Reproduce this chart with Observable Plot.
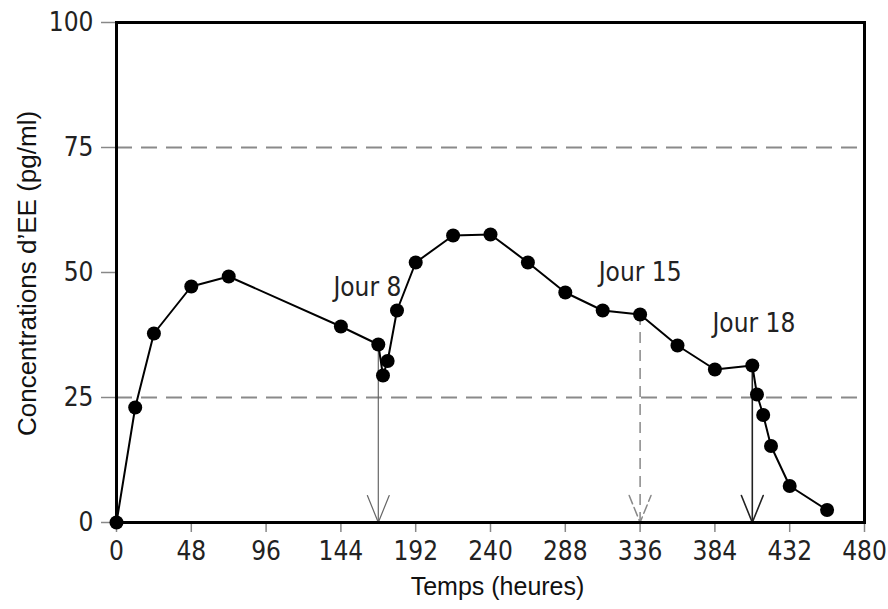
<!DOCTYPE html>
<html>
<head>
<meta charset="utf-8">
<script src="https://cdn.jsdelivr.net/npm/d3@7"></script>
<script src="https://cdn.jsdelivr.net/npm/@observablehq/plot@0.6"></script>
<style>
  html, body { margin: 0; padding: 0; background: #fff; }
  #chart svg { display: block; }
</style>
</head>
<body>
<div id="chart"></div>
<script>
// Data
const hours = [0, 12, 24, 48, 72, 144, 168, 171, 174, 180, 192, 216, 240, 264, 288, 312, 336, 360, 384, 408, 411, 415, 420, 432, 456];
const conc  = [0, 23, 37.8, 47.2, 49.2, 39.2, 35.6, 29.4, 32.3, 42.4, 52, 57.4, 57.6, 52, 46, 42.4, 41.6, 35.4, 30.6, 31.4, 25.6, 21.5, 15.3, 7.3, 2.5];

const xTicks = [0, 48, 96, 144, 192, 240, 288, 336, 384, 432, 480];
const yTicks = [0, 25, 50, 75, 100];
const gridValues = [25, 75];

const jourLabels = ["Jour 8", "Jour 15", "Jour 18"];
const jourHours  = [168, 336, 408];          // arrow positions
const jourTop    = [35.6, 41.6, 31.4];       // arrow starts (data points)
const jourLabelX = [161, 336, 409];
const jourLabelY = [47, 50, 39.8];

const points = hours.map((h, i) => ({h, c: conc[i]}));
const arrows = jourHours.map((h, i) => ({h, top: jourTop[i], name: jourLabels[i]}));
const labels = jourLabels.map((t, i) => ({t, x: jourLabelX[i], y: jourLabelY[i]}));
const headW = 7, headH = 5.4;
const heads = arrows.flatMap(a => [
  {x: a.h - headW, y: headH, name: a.name},
  {x: a.h, y: 0, name: a.name},
  {x: a.h + headW, y: headH, name: a.name}
]);
const arrowStyle = {
  "Jour 8":  {stroke: "#666", width: 1.2, dash: null},
  "Jour 15": {stroke: "#888", width: 1.5, dash: "11,7"},
  "Jour 18": {stroke: "#222", width: 1.6, dash: null}
};

const narrow = "'Liberation Sans Narrow', 'Arial Narrow', 'DejaVu Sans Condensed', sans-serif";
const sans = "'Liberation Sans', Arial, sans-serif";

const arrowMarks = jourLabels.flatMap(name => {
  const s = arrowStyle[name];
  return [
    Plot.ruleX(arrows.filter(a => a.name === name), {x: "h", y1: "top", y2: 0, stroke: s.stroke, strokeWidth: s.width, strokeDasharray: s.dash}),
    Plot.line(heads.filter(d => d.name === name), {x: "x", y: "y", stroke: s.stroke, strokeWidth: s.width, strokeDasharray: s.dash ? "9,4" : null})
  ];
});

const chart = Plot.plot({
  width: 888,
  height: 609,
  marginLeft: 116,
  marginRight: 24,
  marginTop: 22,
  marginBottom: 87,
  style: {fontFamily: narrow, fontSize: "26px", color: "#222", background: "#fff"},
  x: {domain: [0, 480], label: null},
  y: {domain: [0, 100], label: null},
  marks: [
    Plot.ruleY(gridValues, {stroke: "#8a8a8a", strokeWidth: 2, strokeDasharray: "16,9"}),
    Plot.axisX({ticks: xTicks, tickSize: 10, tickPadding: 9, stroke: "#888", strokeWidth: 1.5, fill: "#222", fontSize: 26, fontFamily: narrow, label: null}),
    Plot.axisY({ticks: yTicks, tickSize: 15, tickPadding: 8, stroke: "#888", strokeWidth: 1.5, fill: "#222", fontSize: 26, fontFamily: narrow, label: null}),
    ...arrowMarks,
    Plot.line(points, {x: "h", y: "c", stroke: "black", strokeWidth: 2}),
    Plot.dot(points, {x: "h", y: "c", r: 7, fill: "black", stroke: "none"}),
    Plot.frame({stroke: "black", strokeWidth: 3}),
    Plot.text(labels, {x: "x", y: "y", text: "t", fontSize: 26, fontFamily: narrow, fill: "#222"}),
    Plot.text(["Temps (heures)"], {frameAnchor: "bottom", dx: 7, dy: 72, textAnchor: "middle", fontSize: 25, fontFamily: sans, fill: "#111"}),
    Plot.text(["Concentrations d’EE (pg/ml)"], {frameAnchor: "left", dx: -89, dy: 1, rotate: -90, textAnchor: "middle", fontSize: 26, fontFamily: sans, fill: "#111"})
  ]
});
document.getElementById("chart").appendChild(chart);
</script>
</body>
</html>
